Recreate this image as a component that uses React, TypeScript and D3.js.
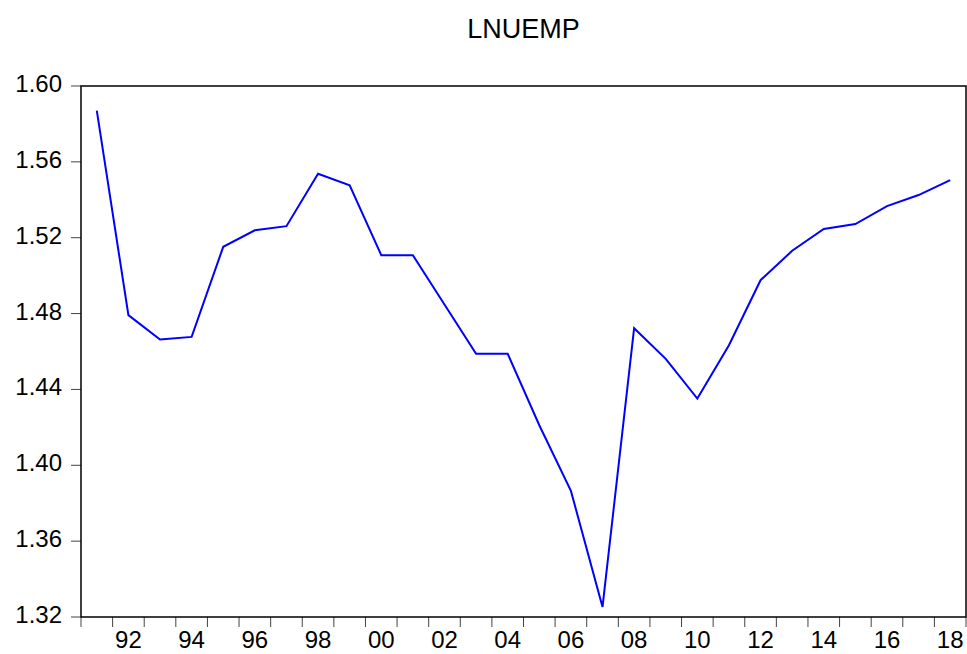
import React, { useEffect, useRef } from 'react';
import * as d3 from 'd3';

// annual series, 1991-2018
const years = [
  1991, 1992, 1993, 1994, 1995, 1996, 1997, 1998, 1999, 2000,
  2001, 2002, 2003, 2004, 2005, 2006, 2007, 2008, 2009, 2010,
  2011, 2012, 2013, 2014, 2015, 2016, 2017, 2018,
];
const lnuemp = [
  1.587, 1.4792, 1.4663, 1.4677, 1.5152, 1.5239, 1.5261, 1.5537, 1.5476, 1.5108,
  1.5108, 1.4848, 1.4588, 1.4588, 1.4211, 1.3865, 1.3253, 1.4723, 1.4561, 1.4352,
  1.4633, 1.4976, 1.5131, 1.5246, 1.5272, 1.5367, 1.5425, 1.5504,
];
const yTicks = [1.32, 1.36, 1.4, 1.44, 1.48, 1.52, 1.56, 1.6];
const title = 'LNUEMP';

const App = () => {
  const chartRef = useRef<SVGSVGElement | null>(null);

  useEffect(() => {
    const W = 967;
    const H = 654;
    const margin = { top: 86, right: 1, bottom: 37, left: 81 };
    const font = '"Liberation Sans", Arial, sans-serif';

    const svg = d3.select(chartRef.current);
    svg.selectAll('*').remove();

    const x = d3
      .scaleBand<number>()
      .domain(years)
      .range([margin.left, W - margin.right])
      .padding(0);

    const y = d3.scaleLinear().domain([1.32, 1.6]).range([H - margin.bottom, margin.top]);

    // title
    svg
      .append('text')
      .attr('x', (margin.left + W - margin.right) / 2)
      .attr('y', 38)
      .attr('text-anchor', 'middle')
      .attr('font-family', font)
      .attr('font-size', 27)
      .attr('fill', '#000')
      .text(title);

    // y ticks + labels
    const yAxis = svg.append('g');
    yTicks.forEach((t) => {
      yAxis
        .append('line')
        .attr('x1', margin.left - 10)
        .attr('x2', margin.left)
        .attr('y1', y(t))
        .attr('y2', y(t))
        .attr('stroke', '#444')
        .attr('stroke-width', 1);
      yAxis
        .append('text')
        .attr('x', margin.left - 19)
        .attr('y', y(t) + 6)
        .attr('text-anchor', 'end')
        .attr('font-family', font)
        .attr('font-size', 24)
        .attr('fill', '#000')
        .text(t.toFixed(2));
    });

    // x ticks at year boundaries, labels every other year
    const xAxis = svg.append('g');
    const bottom = H - margin.bottom;
    const bounds = years.map((yr) => x(yr)!).concat([x(years[years.length - 1])! + x.bandwidth()]);
    bounds.forEach((bx) => {
      xAxis
        .append('line')
        .attr('x1', bx)
        .attr('x2', bx)
        .attr('y1', bottom)
        .attr('y2', bottom + 10)
        .attr('stroke', '#444')
        .attr('stroke-width', 1);
    });
    years
      .filter((yr) => yr % 2 === 0)
      .forEach((yr) => {
        xAxis
          .append('text')
          .attr('x', x(yr)! + x.bandwidth() / 2)
          .attr('y', bottom + 31)
          .attr('text-anchor', 'middle')
          .attr('font-family', font)
          .attr('font-size', 24)
          .attr('fill', '#000')
          .text(String(yr % 100).padStart(2, '0'));
      });

    // frame
    svg
      .append('rect')
      .attr('x', margin.left)
      .attr('y', margin.top)
      .attr('width', W - margin.right - margin.left)
      .attr('height', bottom - margin.top)
      .attr('fill', 'none')
      .attr('stroke', '#000')
      .attr('stroke-width', 1.5);

    // series
    const line = d3
      .line<number>()
      .x((_, i) => x(years[i])! + x.bandwidth() / 2)
      .y((d) => y(d));

    svg
      .append('path')
      .datum(lnuemp)
      .attr('d', line)
      .attr('fill', 'none')
      .attr('stroke', '#0000ff')
      .attr('stroke-width', 2);
  }, []);

  return (
    <svg
      ref={chartRef}
      width={967}
      height={654}
      style={{ position: 'absolute', left: 0, top: 0, background: '#fff' }}
    />
  );
};

export default App;
